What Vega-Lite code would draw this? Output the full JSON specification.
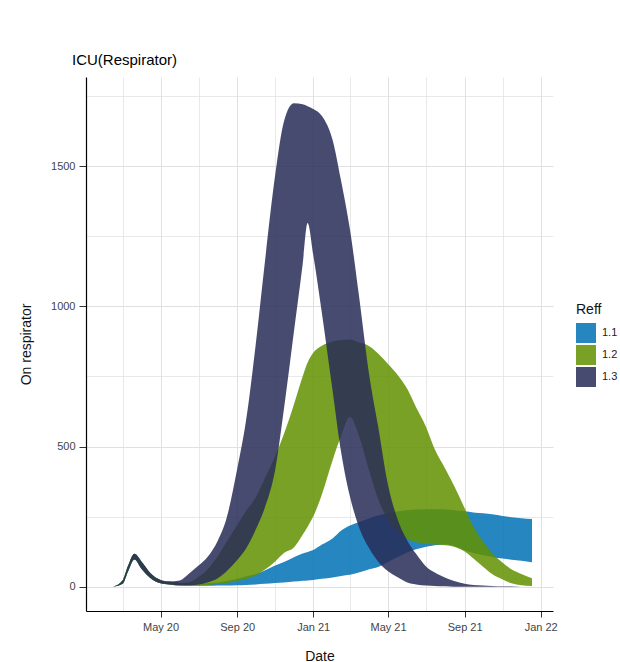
{
  "$schema": "https://vega.github.io/schema/vega-lite/v6.json",
  "autosize": {"type": "none"},
  "padding": {"left": 86, "top": 77, "right": 67, "bottom": 51},
  "width": 467,
  "height": 534,
  "background": "white",
  "config": {
    "font": "Liberation Sans",
    "view": {"stroke": null}
  },
  "title": {
    "text": "ICU(Respirator)",
    "anchor": "start",
    "frame": "group",
    "dx": -14,
    "offset": 9,
    "fontSize": 15,
    "fontWeight": "normal",
    "color": "#000000"
  },
  "data": {
    "values": [
      {"d": "2020-02-15", "r": "1.1", "lo": 0, "hi": 0},
      {"d": "2020-03-01", "r": "1.1", "lo": 10, "hi": 22},
      {"d": "2020-03-10", "r": "1.1", "lo": 55, "hi": 75},
      {"d": "2020-03-20", "r": "1.1", "lo": 97, "hi": 117},
      {"d": "2020-04-01", "r": "1.1", "lo": 62, "hi": 88},
      {"d": "2020-04-15", "r": "1.1", "lo": 30, "hi": 48},
      {"d": "2020-05-01", "r": "1.1", "lo": 12, "hi": 24},
      {"d": "2020-05-15", "r": "1.1", "lo": 8, "hi": 18},
      {"d": "2020-06-01", "r": "1.1", "lo": 4, "hi": 13},
      {"d": "2020-06-15", "r": "1.1", "lo": 3, "hi": 11},
      {"d": "2020-07-01", "r": "1.1", "lo": 3, "hi": 10},
      {"d": "2020-07-15", "r": "1.1", "lo": 3, "hi": 12},
      {"d": "2020-08-01", "r": "1.1", "lo": 4, "hi": 15},
      {"d": "2020-08-15", "r": "1.1", "lo": 4, "hi": 20},
      {"d": "2020-09-01", "r": "1.1", "lo": 5, "hi": 28},
      {"d": "2020-09-15", "r": "1.1", "lo": 6, "hi": 36},
      {"d": "2020-10-01", "r": "1.1", "lo": 8, "hi": 45},
      {"d": "2020-10-15", "r": "1.1", "lo": 10, "hi": 58},
      {"d": "2020-11-01", "r": "1.1", "lo": 13, "hi": 75},
      {"d": "2020-11-15", "r": "1.1", "lo": 15, "hi": 88},
      {"d": "2020-12-01", "r": "1.1", "lo": 18, "hi": 105},
      {"d": "2020-12-15", "r": "1.1", "lo": 21, "hi": 118},
      {"d": "2020-12-23", "r": "1.1", "lo": 22, "hi": 124},
      {"d": "2021-01-01", "r": "1.1", "lo": 24, "hi": 131},
      {"d": "2021-01-15", "r": "1.1", "lo": 28, "hi": 150},
      {"d": "2021-02-01", "r": "1.1", "lo": 33, "hi": 172},
      {"d": "2021-02-15", "r": "1.1", "lo": 38, "hi": 200},
      {"d": "2021-03-01", "r": "1.1", "lo": 42, "hi": 218},
      {"d": "2021-03-15", "r": "1.1", "lo": 50, "hi": 230},
      {"d": "2021-04-01", "r": "1.1", "lo": 62, "hi": 244},
      {"d": "2021-04-15", "r": "1.1", "lo": 70, "hi": 254},
      {"d": "2021-05-01", "r": "1.1", "lo": 88, "hi": 262},
      {"d": "2021-05-15", "r": "1.1", "lo": 104, "hi": 268},
      {"d": "2021-06-01", "r": "1.1", "lo": 122, "hi": 273},
      {"d": "2021-06-15", "r": "1.1", "lo": 133, "hi": 275},
      {"d": "2021-07-01", "r": "1.1", "lo": 142, "hi": 276},
      {"d": "2021-07-15", "r": "1.1", "lo": 148, "hi": 276},
      {"d": "2021-08-01", "r": "1.1", "lo": 150, "hi": 275},
      {"d": "2021-08-15", "r": "1.1", "lo": 145, "hi": 273},
      {"d": "2021-09-01", "r": "1.1", "lo": 130, "hi": 269},
      {"d": "2021-09-15", "r": "1.1", "lo": 120, "hi": 265},
      {"d": "2021-10-01", "r": "1.1", "lo": 112, "hi": 262},
      {"d": "2021-10-15", "r": "1.1", "lo": 106, "hi": 258},
      {"d": "2021-11-01", "r": "1.1", "lo": 100, "hi": 252},
      {"d": "2021-11-15", "r": "1.1", "lo": 96, "hi": 248},
      {"d": "2021-12-01", "r": "1.1", "lo": 92, "hi": 244},
      {"d": "2021-12-18", "r": "1.1", "lo": 87, "hi": 241},

      {"d": "2020-02-15", "r": "1.2", "lo": 0, "hi": 0},
      {"d": "2020-03-01", "r": "1.2", "lo": 10, "hi": 22},
      {"d": "2020-03-10", "r": "1.2", "lo": 55, "hi": 75},
      {"d": "2020-03-20", "r": "1.2", "lo": 97, "hi": 117},
      {"d": "2020-04-01", "r": "1.2", "lo": 62, "hi": 88},
      {"d": "2020-04-15", "r": "1.2", "lo": 30, "hi": 48},
      {"d": "2020-05-01", "r": "1.2", "lo": 12, "hi": 24},
      {"d": "2020-05-15", "r": "1.2", "lo": 8, "hi": 18},
      {"d": "2020-06-01", "r": "1.2", "lo": 4, "hi": 14},
      {"d": "2020-06-15", "r": "1.2", "lo": 4, "hi": 16},
      {"d": "2020-07-01", "r": "1.2", "lo": 5, "hi": 35},
      {"d": "2020-07-15", "r": "1.2", "lo": 6, "hi": 60},
      {"d": "2020-08-01", "r": "1.2", "lo": 9, "hi": 110},
      {"d": "2020-08-15", "r": "1.2", "lo": 13, "hi": 160},
      {"d": "2020-09-01", "r": "1.2", "lo": 20, "hi": 220},
      {"d": "2020-09-15", "r": "1.2", "lo": 28, "hi": 270},
      {"d": "2020-10-01", "r": "1.2", "lo": 40, "hi": 320},
      {"d": "2020-10-15", "r": "1.2", "lo": 60, "hi": 385},
      {"d": "2020-11-01", "r": "1.2", "lo": 90, "hi": 466},
      {"d": "2020-11-15", "r": "1.2", "lo": 120, "hi": 545},
      {"d": "2020-12-01", "r": "1.2", "lo": 140, "hi": 650},
      {"d": "2020-12-15", "r": "1.2", "lo": 185, "hi": 750},
      {"d": "2020-12-23", "r": "1.2", "lo": 214, "hi": 800},
      {"d": "2021-01-01", "r": "1.2", "lo": 250, "hi": 835},
      {"d": "2021-01-15", "r": "1.2", "lo": 330, "hi": 860},
      {"d": "2021-02-01", "r": "1.2", "lo": 450, "hi": 875},
      {"d": "2021-02-15", "r": "1.2", "lo": 540, "hi": 880},
      {"d": "2021-03-01", "r": "1.2", "lo": 605, "hi": 882},
      {"d": "2021-03-15", "r": "1.2", "lo": 540, "hi": 872},
      {"d": "2021-04-01", "r": "1.2", "lo": 412, "hi": 858},
      {"d": "2021-04-15", "r": "1.2", "lo": 313, "hi": 832},
      {"d": "2021-05-01", "r": "1.2", "lo": 240, "hi": 795},
      {"d": "2021-05-15", "r": "1.2", "lo": 200, "hi": 760},
      {"d": "2021-06-01", "r": "1.2", "lo": 170, "hi": 705},
      {"d": "2021-06-15", "r": "1.2", "lo": 158, "hi": 640},
      {"d": "2021-07-01", "r": "1.2", "lo": 152, "hi": 570},
      {"d": "2021-07-15", "r": "1.2", "lo": 150, "hi": 490},
      {"d": "2021-08-01", "r": "1.2", "lo": 148, "hi": 420},
      {"d": "2021-08-15", "r": "1.2", "lo": 142, "hi": 360},
      {"d": "2021-09-01", "r": "1.2", "lo": 125, "hi": 280},
      {"d": "2021-09-15", "r": "1.2", "lo": 100, "hi": 215},
      {"d": "2021-10-01", "r": "1.2", "lo": 70, "hi": 160},
      {"d": "2021-10-15", "r": "1.2", "lo": 45, "hi": 120},
      {"d": "2021-11-01", "r": "1.2", "lo": 25, "hi": 85},
      {"d": "2021-11-15", "r": "1.2", "lo": 12, "hi": 62},
      {"d": "2021-12-01", "r": "1.2", "lo": 5, "hi": 45},
      {"d": "2021-12-18", "r": "1.2", "lo": 2, "hi": 30},

      {"d": "2020-02-15", "r": "1.3", "lo": 0, "hi": 0},
      {"d": "2020-03-01", "r": "1.3", "lo": 10, "hi": 22},
      {"d": "2020-03-10", "r": "1.3", "lo": 55, "hi": 75},
      {"d": "2020-03-20", "r": "1.3", "lo": 97, "hi": 117},
      {"d": "2020-04-01", "r": "1.3", "lo": 62, "hi": 88},
      {"d": "2020-04-15", "r": "1.3", "lo": 30, "hi": 48},
      {"d": "2020-05-01", "r": "1.3", "lo": 12, "hi": 24},
      {"d": "2020-05-15", "r": "1.3", "lo": 8, "hi": 18},
      {"d": "2020-06-01", "r": "1.3", "lo": 5, "hi": 22},
      {"d": "2020-06-15", "r": "1.3", "lo": 5, "hi": 45},
      {"d": "2020-07-01", "r": "1.3", "lo": 8, "hi": 75},
      {"d": "2020-07-15", "r": "1.3", "lo": 15, "hi": 105},
      {"d": "2020-08-01", "r": "1.3", "lo": 30, "hi": 165},
      {"d": "2020-08-15", "r": "1.3", "lo": 55, "hi": 245},
      {"d": "2020-09-01", "r": "1.3", "lo": 95, "hi": 420},
      {"d": "2020-09-15", "r": "1.3", "lo": 135, "hi": 590},
      {"d": "2020-10-01", "r": "1.3", "lo": 205, "hi": 870},
      {"d": "2020-10-15", "r": "1.3", "lo": 280, "hi": 1150},
      {"d": "2020-11-01", "r": "1.3", "lo": 418, "hi": 1470},
      {"d": "2020-11-15", "r": "1.3", "lo": 634, "hi": 1660},
      {"d": "2020-12-01", "r": "1.3", "lo": 910, "hi": 1725},
      {"d": "2020-12-15", "r": "1.3", "lo": 1150, "hi": 1722},
      {"d": "2020-12-23", "r": "1.3", "lo": 1298, "hi": 1715},
      {"d": "2021-01-01", "r": "1.3", "lo": 1185, "hi": 1705},
      {"d": "2021-01-15", "r": "1.3", "lo": 975, "hi": 1680},
      {"d": "2021-02-01", "r": "1.3", "lo": 700, "hi": 1595},
      {"d": "2021-02-15", "r": "1.3", "lo": 477, "hi": 1445},
      {"d": "2021-03-01", "r": "1.3", "lo": 321, "hi": 1274},
      {"d": "2021-03-15", "r": "1.3", "lo": 215, "hi": 1045},
      {"d": "2021-04-01", "r": "1.3", "lo": 136, "hi": 753},
      {"d": "2021-04-15", "r": "1.3", "lo": 90, "hi": 574},
      {"d": "2021-05-01", "r": "1.3", "lo": 55, "hi": 363},
      {"d": "2021-05-15", "r": "1.3", "lo": 35, "hi": 249},
      {"d": "2021-06-01", "r": "1.3", "lo": 15, "hi": 164},
      {"d": "2021-06-15", "r": "1.3", "lo": 8, "hi": 117},
      {"d": "2021-07-01", "r": "1.3", "lo": 4, "hi": 72},
      {"d": "2021-07-15", "r": "1.3", "lo": 2, "hi": 50},
      {"d": "2021-08-01", "r": "1.3", "lo": 1, "hi": 32},
      {"d": "2021-08-15", "r": "1.3", "lo": 0, "hi": 20},
      {"d": "2021-09-01", "r": "1.3", "lo": 0, "hi": 10},
      {"d": "2021-09-15", "r": "1.3", "lo": 0, "hi": 6},
      {"d": "2021-10-01", "r": "1.3", "lo": 0, "hi": 4},
      {"d": "2021-10-15", "r": "1.3", "lo": 0, "hi": 2},
      {"d": "2021-11-01", "r": "1.3", "lo": 0, "hi": 1},
      {"d": "2021-11-15", "r": "1.3", "lo": 0, "hi": 1},
      {"d": "2021-12-01", "r": "1.3", "lo": 0, "hi": 0},
      {"d": "2021-12-18", "r": "1.3", "lo": 0, "hi": 0}
    ]
  },
  "mark": {"type": "area", "interpolate": "monotone", "opacity": 0.85},
  "encoding": {
    "x": {
      "field": "d",
      "type": "temporal",
      "title": "Date",
      "scale": {
        "type": "utc",
        "domain": [
          {"year": 2020, "month": 1, "date": 2, "hours": 10, "utc": true},
          {"year": 2022, "month": 1, "date": 20, "hours": 17, "utc": true}
        ]
      },
      "axis": {
        "values": [
          {"year": 2020, "month": 3, "date": 1, "utc": true},
          {"year": 2020, "month": 5, "date": 1, "utc": true},
          {"year": 2020, "month": 7, "date": 1, "utc": true},
          {"year": 2020, "month": 9, "date": 1, "utc": true},
          {"year": 2020, "month": 11, "date": 1, "utc": true},
          {"year": 2021, "month": 1, "date": 1, "utc": true},
          {"year": 2021, "month": 3, "date": 1, "utc": true},
          {"year": 2021, "month": 5, "date": 1, "utc": true},
          {"year": 2021, "month": 7, "date": 1, "utc": true},
          {"year": 2021, "month": 9, "date": 1, "utc": true},
          {"year": 2021, "month": 11, "date": 1, "utc": true},
          {"year": 2022, "month": 1, "date": 1, "utc": true}
        ],
        "labelExpr": "utcmonth(datum.value) % 4 == 0 ? utcFormat(datum.value, '%b %y') : ''",
        "labelFontSize": 11,
        "labelColor": "#444444",
        "labelPadding": 4,
        "labelOverlap": false,
        "labelFlush": false,
        "tickSize": 6,
        "tickColor": "#333333",
        "tickOpacity": {"condition": {"test": "utcmonth(datum.value) % 4 == 0", "value": 1}, "value": 0},
        "grid": true,
        "gridColor": "#e0e0e0",
        "gridWidth": {"condition": {"test": "utcmonth(datum.value) % 4 == 0", "value": 1}, "value": 0.7},
        "domainColor": "#000000",
        "domainWidth": 1.2,
        "titleFontSize": 14,
        "titleFontWeight": "normal",
        "titleColor": "#111111",
        "titlePadding": 17
      }
    },
    "y": {
      "field": "lo",
      "type": "quantitative",
      "title": "On respirator",
      "scale": {"domain": [-87, 1819], "nice": false, "zero": false},
      "axis": {
        "values": [0, 250, 500, 750, 1000, 1250, 1500, 1750],
        "format": "d",
        "labelExpr": "datum.value % 500 == 0 ? datum.label : ''",
        "labelFontSize": 11,
        "labelColor": "#444444",
        "labelPadding": 4,
        "tickSize": 7,
        "tickColor": "#333333",
        "tickOpacity": {"condition": {"test": "datum.value % 500 == 0", "value": 1}, "value": 0},
        "grid": true,
        "gridColor": "#e0e0e0",
        "gridWidth": {"condition": {"test": "datum.value % 500 == 0", "value": 1}, "value": 0.7},
        "domainColor": "#000000",
        "domainWidth": 1.2,
        "titleFontSize": 14,
        "titleFontWeight": "normal",
        "titleColor": "#111111",
        "titlePadding": 17
      }
    },
    "y2": {"field": "hi"},
    "color": {
      "field": "r",
      "type": "nominal",
      "scale": {"domain": ["1.1", "1.2", "1.3"], "range": ["#0071b5", "#629000", "#282b57"]},
      "legend": {
        "title": "Reff",
        "orient": "none",
        "legendX": 490,
        "legendY": 226,
        "titleFontSize": 14,
        "titleFontWeight": "normal",
        "titleColor": "#111111",
        "titlePadding": 6,
        "labelFontSize": 11,
        "labelColor": "#222222",
        "labelOffset": 6,
        "symbolType": "square",
        "symbolSize": 400,
        "symbolStrokeWidth": 0,
        "symbolOpacity": 0.85,
        "rowPadding": 2
      }
    }
  }
}
